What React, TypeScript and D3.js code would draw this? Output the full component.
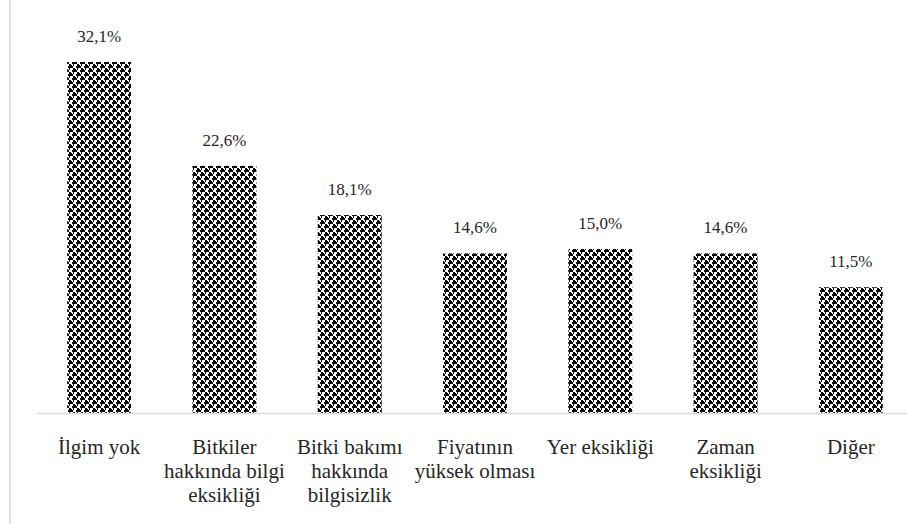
import React from "react";
import * as d3 from "d3";

const categories: string[][] = [
  ["İlgim yok"],
  ["Bitkiler", "hakkında bilgi", "eksikliği"],
  ["Bitki bakımı", "hakkında", "bilgisizlik"],
  ["Fiyatının", "yüksek olması"],
  ["Yer eksikliği"],
  ["Zaman", "eksikliği"],
  ["Diğer"],
];
const values: number[] = [32.1, 22.6, 18.1, 14.6, 15.0, 14.6, 11.5];
const valueLabels: string[] = ["32,1%", "22,6%", "18,1%", "14,6%", "15,0%", "14,6%", "11,5%"];

const sphereBits = [0x46, 0x47, 0x8f, 0x8f, 0x64, 0x74, 0xf8, 0xf8];

const W = 907;
const H = 524;
const FONT = '"Liberation Serif"';

export default function App() {
  const keys = categories.map((_, i) => String(i));
  const x = d3.scaleBand<string>().domain(keys).range([36.5, 913.5]).paddingInner(0.49).paddingOuter(0.245);
  const y = d3.scaleLinear().domain([0, 32.1]).range([413, 62]);

  const cells: React.ReactElement[] = [];
  sphereBits.forEach((b, r) => {
    for (let c = 0; c < 8; c++) {
      if (b & (0x80 >> c)) cells.push(<rect key={`${r}-${c}`} x={c} y={r} width={1} height={1} fill="#000" />);
    }
  });

  return (
    <svg width={W} height={H} style={{ position: "absolute", left: 0, top: 0, background: "#fff" }}>
      <defs>
        <pattern id="sphere" patternUnits="userSpaceOnUse" width={8} height={8}>
          <rect width={8} height={8} fill="#fff" />
          {cells}
        </pattern>
      </defs>
      <rect x={0} y={0} width={W} height={H} fill="#fff" />
      <line x1={10} x2={10} y1={0} y2={H} stroke="#d9d9d9" strokeWidth={1.5} />
      {values.map((v, i) => {
        const bx = x(String(i))!;
        const bw = x.bandwidth();
        return (
          <g key={i}>
            <rect x={bx} y={y(v)} width={bw} height={y(0) - y(v)} fill="url(#sphere)" />
            <text x={bx + bw / 2} y={y(v) - 20} textAnchor="middle" fontFamily="Liberation Serif" style={{ fontFamily: FONT, fontSize: 17 }} fill="#262626">
              {valueLabels[i]}
            </text>
          </g>
        );
      })}
      <line x1={37} x2={907} y1={413.5} y2={413.5} stroke="#d9d9d9" strokeWidth={1.5} />
      {categories.map((lines, i) => {
        const cx = x(String(i))! + x.bandwidth() / 2;
        return lines.map((l, j) => (
          <text
            key={`${i}-${j}`}
            x={cx}
            y={454 + j * 24}
            textAnchor="middle"
            fontFamily="Liberation Serif"
            style={{ fontFamily: FONT, fontSize: 21 }}
            fill="#262626"
          >
            {l}
          </text>
        ));
      })}
    </svg>
  );
}
